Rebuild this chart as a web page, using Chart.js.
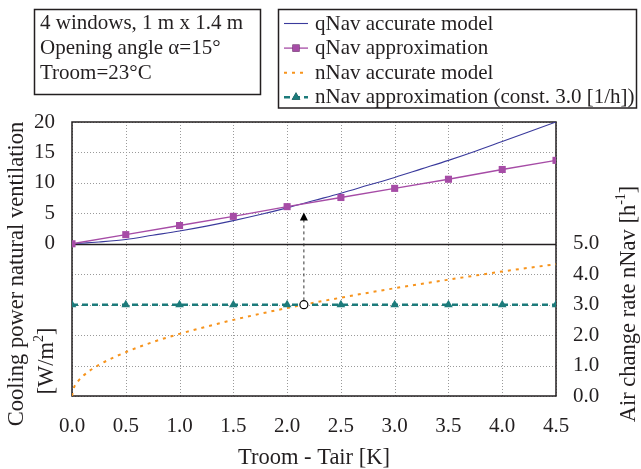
<!DOCTYPE html>
<html>
<head>
<meta charset="utf-8">
<script src="https://cdn.jsdelivr.net/npm/chart.js@4.4.0/dist/chart.umd.min.js"></script>
<style>
  html, body { margin: 0; padding: 0; background: #fff; }
  #wrap { width: 641px; height: 469px; }
</style>
</head>
<body>
<div id="wrap"><canvas id="chart" width="641" height="469"></canvas></div>
<script>
// x values (Troom - Tair [K])
const dtSteps = [0, 0.5, 1.0, 1.5, 2.0, 2.5, 3.0, 3.5, 4.0, 4.5];
const dtFine = [0, 0.25, 0.5, 0.75, 1.0, 1.25, 1.5, 1.75, 2.0, 2.25, 2.5, 2.75, 3.0, 3.25, 3.5, 3.75, 4.0, 4.25, 4.5];
const dtRate = [0, 0.02, 0.05, 0.1, 0.25, 0.5, 0.75, 1.0, 1.25, 1.5, 1.75, 2.0, 2.5, 3.0, 3.5, 4.0, 4.5];

// cooling power [W/m2] (left axis)
const qNavAccurate = [0, 0.3, 0.7, 1.4, 2.1, 2.9, 3.8, 4.8, 5.9, 7.1, 8.3, 9.6, 10.9, 12.3, 13.7, 15.2, 16.8, 18.4, 20.0];
const qNavApprox = [0, 1.5, 3.0, 4.5, 6.1, 7.6, 9.1, 10.6, 12.2, 13.7];

// air change rate [1/h] (right axis)
const nNavAccurate = [0, 0.29, 0.46, 0.65, 1.02, 1.44, 1.77, 2.04, 2.28, 2.5, 2.7, 2.89, 3.23, 3.54, 3.82, 4.09, 4.33];
const nNavApprox = [3.0, 3.0, 3.0, 3.0, 3.0, 3.0, 3.0, 3.0, 3.0, 3.0];

// marked point: accurate nNav meets const 3.0
const markDt = 2.156;
const markN = 3.0;
const arrowFrom = -9.3;  // left axis units
const arrowTo = 5.15;

const legendLabels = ['qNav accurate model', 'qNav approximation', 'nNav accurate model', 'nNav approximation (const. 3.0 [1/h])'];
const infoLines = ['4 windows, 1 m x 1.4 m', 'Opening angle \u03b1=15\u00b0', 'Troom=23\u00b0C'];

const FONT = '"Liberation Serif", "Times New Roman", serif';
const INK = '#231f20';
const BLUE = '#3a3a9c';
const PURPLE = '#a64ca6';
const ORANGE = '#f7941d';
const TEAL = '#1c7b7b';

const zip = (xs, ys) => xs.map((x, i) => ({ x, y: ys[i] }));

Chart.defaults.font.family = FONT;
Chart.defaults.color = INK;

function drawRich(ctx, segs, cx, cy, size, rot) {
  ctx.save();
  ctx.translate(cx, cy);
  ctx.rotate(rot);
  let total = 0;
  const parts = segs.map(s => {
    const fs = s.sup ? size * 0.62 : size;
    ctx.font = fs + 'px ' + FONT;
    const w = ctx.measureText(s.t).width;
    total += w;
    return { s, fs, w };
  });
  let x = -total / 2;
  ctx.textBaseline = 'middle';
  ctx.textAlign = 'left';
  ctx.fillStyle = INK;
  for (const p of parts) {
    ctx.font = p.fs + 'px ' + FONT;
    ctx.fillText(p.s.t, x, p.s.sup ? -size * 0.33 : 0);
    x += p.w;
  }
  ctx.restore();
}

const framePlugin = {
  id: 'frame',
  beforeDatasetsDraw(chart) {
    const { ctx, chartArea: a, scales } = chart;
    ctx.save();
    // dotted grid
    ctx.strokeStyle = '#9a9a9a';
    ctx.lineWidth = 1;
    ctx.setLineDash([1, 2]);
    scales.x.ticks.forEach(t => {
      const px = Math.round(scales.x.getPixelForValue(t.value)) + 0.5;
      ctx.beginPath(); ctx.moveTo(px, a.top); ctx.lineTo(px, a.bottom); ctx.stroke();
    });
    scales.yL.ticks.forEach(t => {
      const py = Math.round(scales.yL.getPixelForValue(t.value)) + 0.5;
      ctx.beginPath(); ctx.moveTo(a.left, py); ctx.lineTo(a.right, py); ctx.stroke();
    });
    ctx.setLineDash([]);
    // zero line
    const zy = Math.round(scales.yL.getPixelForValue(0)) + 0.5;
    ctx.strokeStyle = INK;
    ctx.lineWidth = 1.3;
    ctx.beginPath(); ctx.moveTo(a.left, zy); ctx.lineTo(a.right, zy); ctx.stroke();
    // frame
    ctx.lineWidth = 1.5;
    ctx.strokeRect(a.left, a.top, a.right - a.left, a.bottom - a.top);
    ctx.restore();
  },
  afterDraw(chart) {
    const { ctx, chartArea: a, scales } = chart;
    ctx.save();
    // arrow head
    const ax = scales.x.getPixelForValue(markDt);
    const tip = scales.yL.getPixelForValue(arrowTo);
    ctx.fillStyle = '#000';
    ctx.beginPath();
    ctx.moveTo(ax, tip); ctx.lineTo(ax - 4, tip + 8); ctx.lineTo(ax + 4, tip + 8); ctx.closePath();
    ctx.fill();

    // info box
    ctx.strokeStyle = INK;
    ctx.lineWidth = 1.5;
    ctx.strokeRect(34.5, 9.5, 226, 85);
    ctx.fillStyle = INK;
    ctx.font = '21px ' + FONT;
    ctx.textBaseline = 'middle';
    ctx.textAlign = 'left';
    infoLines.forEach((t, i) => ctx.fillText(t, 40, 23 + i * 25));

    // legend box
    ctx.strokeRect(278.5, 9.5, 358, 98.5);
    const ds = chart.data.datasets;
    const rows = [0, 1, 2, 3];
    rows.forEach(i => {
      const d = ds[i];
      const y = 23.5 + i * 24.6;
      ctx.save();
      ctx.strokeStyle = d.borderColor;
      ctx.lineWidth = d.borderWidth;
      ctx.setLineDash(d.borderDash || []);
      ctx.beginPath(); ctx.moveTo(284, y); ctx.lineTo(308, y); ctx.stroke();
      ctx.setLineDash([]);
      if (d.pointRadius > 0) {
        Chart.helpers.drawPoint(ctx, { pointStyle: d.pointStyle, rotation: 0, borderWidth: 0, radius: d.pointRadius }, 296, y);
        ctx.fillStyle = d.pointBackgroundColor;
        ctx.fill();
      }
      ctx.restore();
      ctx.fillStyle = INK;
      ctx.font = '21px ' + FONT;
      ctx.textBaseline = 'middle';
      ctx.fillText(legendLabels[i], 315, y + 0.5);
    });

    // axis titles
    drawRich(ctx, [{ t: 'Cooling power natural ventilation' }], 17, 274, 22.5, -Math.PI / 2);
    drawRich(ctx, [{ t: '[W/m' }, { t: '2', sup: true }, { t: ']' }], 47, 361, 22.5, -Math.PI / 2);
    drawRich(ctx, [{ t: 'Air change rate nNav [h' }, { t: '-1', sup: true }, { t: ']' }], 629, 304, 22.5, -Math.PI / 2);
    drawRich(ctx, [{ t: 'Troom - Tair [K]' }], (a.left + a.right) / 2, 458, 22.5, 0);
    ctx.restore();
  }
};

new Chart(document.getElementById('chart'), {
  type: 'line',
  data: {
    datasets: [
      {
        label: legendLabels[0], data: zip(dtFine, qNavAccurate), yAxisID: 'yL',
        borderColor: BLUE, borderWidth: 1.1, pointRadius: 0, cubicInterpolationMode: 'monotone', order: 4
      },
      {
        label: legendLabels[1], data: zip(dtSteps, qNavApprox), yAxisID: 'yL',
        borderColor: PURPLE, borderWidth: 1.3, pointStyle: 'rect', pointRadius: 5,
        pointBackgroundColor: PURPLE, pointBorderWidth: 0, tension: 0, order: 3
      },
      {
        label: legendLabels[2], data: zip(dtRate, nNavAccurate), yAxisID: 'yR',
        borderColor: ORANGE, borderWidth: 2, borderDash: [3, 5], pointRadius: 0,
        cubicInterpolationMode: 'monotone', order: 5
      },
      {
        label: legendLabels[3], data: zip(dtSteps, nNavApprox), yAxisID: 'yR',
        borderColor: TEAL, borderWidth: 2.5, borderDash: [6, 4], pointStyle: 'triangle', pointRadius: 5,
        pointBackgroundColor: TEAL, pointBorderWidth: 0, order: 2
      },
      {
        label: 'arrow', data: [{ x: markDt, y: arrowFrom }, { x: markDt, y: arrowTo - 1.2 }], yAxisID: 'yL',
        borderColor: '#333', borderWidth: 1, borderDash: [3, 3], pointRadius: 0, order: 1
      },
      {
        label: 'mark', data: [{ x: markDt, y: markN }], yAxisID: 'yR', showLine: false,
        pointStyle: 'circle', pointRadius: 4, pointBackgroundColor: '#fff', pointBorderColor: '#000',
        pointBorderWidth: 1.2, borderColor: '#000', order: 0
      }
    ]
  },
  options: {
    responsive: false,
    animation: false,
    layout: { padding: { top: 122, left: 0, right: 0, bottom: 0 } },
    plugins: { legend: { display: false }, tooltip: { enabled: false } },
    scales: {
      x: {
        type: 'linear', min: 0, max: 4.5,
        grid: { display: false, drawTicks: false }, border: { display: false },
        ticks: { stepSize: 0.5, padding: 18, font: { size: 21 }, color: INK, callback: v => v.toFixed(1) },
        afterFit: s => { s.height = 73; }
      },
      yL: {
        position: 'left', min: -25, max: 20,
        grid: { display: false, drawTicks: false }, border: { display: false },
        ticks: { stepSize: 5, padding: 17, autoSkip: false, font: { size: 21 }, color: INK, callback: v => (v >= 0 ? v : '') },
        afterFit: s => { s.width = 72; }
      },
      yR: {
        position: 'right', min: 0, max: 9,
        grid: { display: false, drawTicks: false }, border: { display: false },
        ticks: { stepSize: 1, padding: 17, autoSkip: false, font: { size: 21 }, color: INK, callback: v => (v <= 5 ? v.toFixed(1) : '') },
        afterFit: s => { s.width = 85; }
      }
    }
  },
  plugins: [framePlugin]
});
</script>
</body>
</html>
